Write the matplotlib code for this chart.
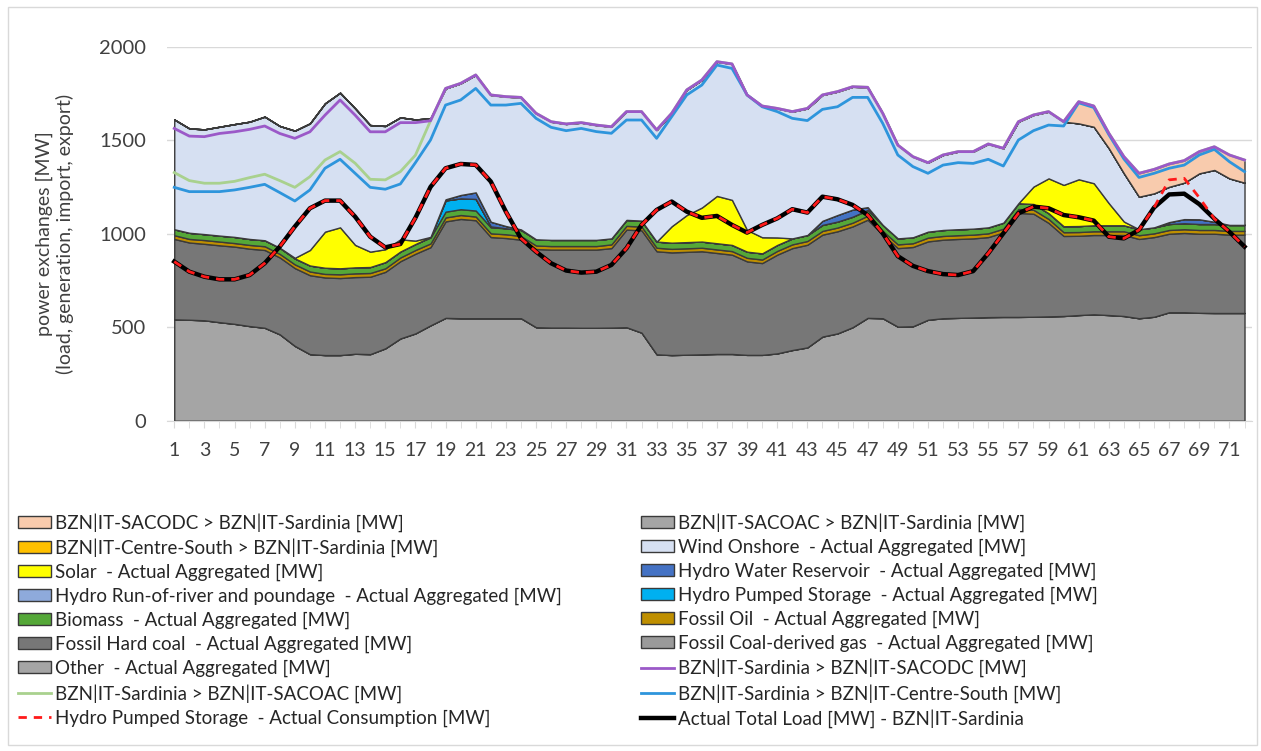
import numpy as np
import matplotlib
matplotlib.use('Agg')
import matplotlib.pyplot as plt
from matplotlib.patches import Patch, Rectangle
from matplotlib.lines import Line2D
import matplotlib.ticker as ticker

plt.rcParams['font.family'] = ['Lato', 'DejaVu Sans']

hours = np.arange(1, 73)

# stacked areas (MW), bottom to top
other = [542, 540, 537, 527, 518, 506, 497, 462, 400, 356, 351, 351, 358, 356, 387, 440, 467, 510,
         550, 548, 548, 548, 548, 548, 500, 498, 498, 497, 497, 498, 500, 471, 355, 351, 353, 355,
         357, 357, 352, 352, 360, 378, 392, 450, 467, 500, 550, 548, 503, 505, 540, 548, 550, 552,
         554, 555, 555, 556, 558, 560, 565, 569, 565, 560, 548, 556, 580, 580, 577, 576, 576, 576]
coal_gas = [0] * 72
hard_coal = [430, 413, 409, 411, 413, 414, 416, 411, 416, 422, 415, 412, 410, 414, 409, 413, 426, 418,
             516, 531, 524, 434, 429, 420, 418, 417, 417, 418, 418, 425, 522, 547, 551, 549, 550, 551,
             540, 531, 500, 491, 528, 545, 549, 545, 546, 539, 525, 447, 420, 424, 419, 420, 422, 423,
             428, 452, 556, 551, 500, 428, 424, 424, 428, 433, 424, 426, 420, 424, 423, 424, 419, 419]
fossil_oil = [20, 19, 20, 20, 19, 20, 20, 19, 20, 20, 19, 20, 20, 20, 19, 20, 20, 20,
              21, 21, 20, 20, 20, 20, 19, 19, 19, 19, 19, 20, 20, 20, 19, 19, 19, 19,
              19, 19, 19, 19, 20, 20, 20, 20, 20, 20, 21, 20, 20, 20, 20, 20, 20, 20,
              20, 20, 21, 21, 21, 20, 20, 20, 20, 20, 20, 20, 20, 20, 20, 20, 20, 20]
biomass = [32, 33, 32, 32, 33, 32, 32, 33, 32, 32, 33, 32, 32, 32, 33, 32, 32, 32,
           31, 31, 32, 32, 32, 32, 33, 33, 33, 33, 33, 32, 32, 32, 33, 33, 33, 33,
           33, 33, 33, 33, 32, 32, 32, 32, 32, 32, 31, 32, 32, 32, 32, 32, 32, 32,
           32, 32, 31, 31, 31, 32, 32, 32, 32, 32, 32, 32, 32, 32, 32, 32, 32, 32]
pumped_gen = [0] * 17 + [3, 60, 58, 62, 5] + [0] * 50
run_of_river = [0] * 72
water_res = ([0] * 18 + [6, 18, 35, 25, 12, 3] + [0] * 19 + [22, 35, 38, 15] + [0] * 19
             + [10, 22, 25, 12] + [0] * 2)
solar = ([0] * 8 + [3, 83, 193, 219, 120, 82, 69, 65, 18, 0] + [0] * 14
         + [0, 88, 145, 182, 253, 241, 116, 86, 40, 0] + [0] * 14
         + [0, 93, 186, 221, 250, 225, 118, 20, 0] + [0] * 7)
wind = [587, 558, 560, 582, 603, 627, 661, 651, 680, 677, 686, 720, 730, 677, 659, 652, 648, 634,
        593, 597, 628, 678, 692, 706, 674, 632, 620, 627, 614, 597, 579, 583, 597, 604, 669, 682,
        718, 727, 722, 702, 690, 678, 677, 673, 660, 657, 641, 597, 499, 431, 369, 401, 415, 412,
        446, 398, 436, 383, 357, 338, 299, 302, 294, 258, 174, 182, 189, 195, 246, 277, 249, 226]
imp_centre_south = [0] * 72
imp_sacoac = [0] * 72
imp_sacodc = [0] * 60 + [116, 111, 80, 89, 125, 128, 122, 118, 116, 124, 125, 121]

# lines (MW)
exp_sacodc = [1563, 1522, 1519, 1536, 1545, 1558, 1576, 1536, 1510, 1545, 1634, 1715, 1634, 1545, 1545, 1594, 1594, 1604,
              1777, 1804, 1849, 1742, 1733, 1729, 1644, 1599, 1587, 1594, 1581, 1572, 1653, 1653, 1555, 1644, 1769, 1822,
              1920, 1908, 1742, 1683, 1670, 1653, 1670, 1742, 1760, 1786, 1783, 1644, 1474, 1412, 1380, 1421, 1439, 1439,
              1480, 1457, 1599, 1635, 1653, 1599, 1706, 1683, 1537, 1412, 1323, 1344, 1373, 1391, 1439, 1465, 1421, 1394]
exp_sacoac = [1327, 1284, 1270, 1270, 1280, 1300, 1318, 1284, 1248, 1305, 1394, 1439, 1377, 1291, 1288, 1332, 1420, 1604,
              1777, 1804, 1849, 1742, 1733, 1729, 1644, 1599, 1587, 1594, 1581, 1572, 1653, 1653, 1555, 1644, 1769, 1822,
              1920, 1908, 1742, 1683, 1670, 1653, 1670, 1742, 1760, 1786, 1783, 1644, 1474, 1412, 1380, 1421, 1439, 1439,
              1480, 1457, 1599, 1635, 1653, 1599, 1706, 1683, 1537, 1412, 1323, 1344, 1373, 1391, 1439, 1465, 1421, 1394]
exp_centre_south = [1248, 1225, 1225, 1225, 1234, 1248, 1264, 1220, 1175, 1234, 1350, 1398, 1323, 1248, 1238, 1266, 1380, 1501,
                    1688, 1715, 1777, 1688, 1688, 1697, 1617, 1569, 1551, 1563, 1546, 1537, 1608, 1608, 1510, 1626, 1742, 1795,
                    1902, 1884, 1742, 1679, 1653, 1617, 1605, 1665, 1679, 1729, 1729, 1590, 1421, 1359, 1323, 1367, 1380, 1376,
                    1398, 1362, 1501, 1551, 1581, 1576, 1700, 1675, 1530, 1400, 1301, 1323, 1350, 1367, 1421, 1451, 1385, 1332]
total_load = [851, 797, 770, 756, 756, 779, 842, 931, 1038, 1136, 1177, 1177, 1091, 984, 927, 945, 1085, 1250,
              1350, 1373, 1368, 1279, 1118, 975, 904, 842, 803, 792, 797, 833, 922, 1047, 1127, 1172, 1118, 1085,
              1095, 1047, 1006, 1047, 1082, 1131, 1113, 1198, 1184, 1154, 1100, 1002, 880, 828, 800, 784, 779, 800,
              895, 1002, 1109, 1145, 1136, 1100, 1088, 1070, 984, 975, 1020, 1140, 1210, 1214, 1158, 1080, 1010, 931]
pumped_cons = [0] * 66 + [78, 82, 35] + [0] * 3

area_labels = ['Other  - Actual Aggregated [MW]',
               'Fossil Coal-derived gas  - Actual Aggregated [MW]',
               'Fossil Hard coal  - Actual Aggregated [MW]',
               'Fossil Oil  - Actual Aggregated [MW]',
               'Biomass  - Actual Aggregated [MW]',
               'Hydro Pumped Storage  - Actual Aggregated [MW]',
               'Hydro Run-of-river and poundage  - Actual Aggregated [MW]',
               'Hydro Water Reservoir  - Actual Aggregated [MW]',
               'Solar  - Actual Aggregated [MW]',
               'Wind Onshore  - Actual Aggregated [MW]',
               'BZN|IT-Centre-South > BZN|IT-Sardinia [MW]',
               'BZN|IT-SACOAC > BZN|IT-Sardinia [MW]',
               'BZN|IT-SACODC > BZN|IT-Sardinia [MW]']
area_colors = ['#a5a5a5', '#9a9a9a', '#777777', '#bf8f00', '#55a838', '#00b0f0', '#8eaadb',
               '#4472c4', '#ffff00', '#d6e0f2', '#ffc000', '#a5a5a5', '#f8cbad']

fig = plt.figure(figsize=(12.61, 7.51), dpi=100)
ax = fig.add_axes([0.1322, 0.4398, 0.8607, 0.498])

polys = ax.stackplot(hours, other, coal_gas, hard_coal, fossil_oil, biomass, pumped_gen,
                     run_of_river, water_res, solar, wind, imp_centre_south, imp_sacoac,
                     imp_sacodc, colors=area_colors, edgecolor='#3a3a3a', linewidth=1.0,
                     zorder=2)

ax.plot(hours, exp_sacoac, color='#a9d18e', lw=2, zorder=3)
ax.plot(hours, exp_centre_south, color='#2e95dc', lw=2, zorder=3)
ax.plot(hours, exp_sacodc, color='#9b59c8', lw=2, zorder=4)
ax.plot(hours, total_load, color='black', lw=3.2, zorder=5)
ax.plot(hours, np.array(total_load) + np.array(pumped_cons), color='#ff1a1a', lw=2,
        ls=(0, (3, 2.5)), zorder=6)

ax.set_xlim(0.5, 72.5)
ax.set_ylim(0, 2000)
ax.yaxis.set_major_locator(ticker.MultipleLocator(500))
ax.set_xticks(np.arange(1, 72, 2))
ax.set_xticks(hours, minor=True)
ax.grid(axis='y', color='#d9d9d9', lw=1, zorder=0)
ax.set_axisbelow(True)
for s in ['top', 'right', 'left']:
    ax.spines[s].set_visible(False)
ax.spines['bottom'].set_color('#d9d9d9')
ax.tick_params(axis='y', length=0, labelsize=14.5, pad=15, colors='#404040')
ax.tick_params(axis='x', which='major', length=5, color='#d9d9d9', labelsize=14, pad=10,
               labelcolor='#404040')
ax.tick_params(axis='x', which='minor', length=5, color='#d9d9d9')
ax.set_ylabel('power exchanges [MW]\n(load, generation, import, export)', fontsize=14,
              color='#404040', labelpad=18)

h = {lab: Patch(facecolor=c, edgecolor='#3a3a3a', lw=1) for lab, c in zip(area_labels, area_colors)}
col1 = [h['BZN|IT-SACODC > BZN|IT-Sardinia [MW]'],
        h['BZN|IT-Centre-South > BZN|IT-Sardinia [MW]'],
        h['Solar  - Actual Aggregated [MW]'],
        h['Hydro Run-of-river and poundage  - Actual Aggregated [MW]'],
        h['Biomass  - Actual Aggregated [MW]'],
        h['Fossil Hard coal  - Actual Aggregated [MW]'],
        h['Other  - Actual Aggregated [MW]'],
        Line2D([], [], color='#a9d18e', lw=2),
        Line2D([], [], color='#ff1a1a', lw=2, ls=(0, (3, 2.5)))]
lab1 = ['BZN|IT-SACODC > BZN|IT-Sardinia [MW]',
        'BZN|IT-Centre-South > BZN|IT-Sardinia [MW]',
        'Solar  - Actual Aggregated [MW]',
        'Hydro Run-of-river and poundage  - Actual Aggregated [MW]',
        'Biomass  - Actual Aggregated [MW]',
        'Fossil Hard coal  - Actual Aggregated [MW]',
        'Other  - Actual Aggregated [MW]',
        'BZN|IT-Sardinia > BZN|IT-SACOAC [MW]',
        'Hydro Pumped Storage  - Actual Consumption [MW]']
col2 = [h['BZN|IT-SACOAC > BZN|IT-Sardinia [MW]'],
        h['Wind Onshore  - Actual Aggregated [MW]'],
        h['Hydro Water Reservoir  - Actual Aggregated [MW]'],
        h['Hydro Pumped Storage  - Actual Aggregated [MW]'],
        h['Fossil Oil  - Actual Aggregated [MW]'],
        h['Fossil Coal-derived gas  - Actual Aggregated [MW]'],
        Line2D([], [], color='#9b59c8', lw=2),
        Line2D([], [], color='#2e95dc', lw=2),
        Line2D([], [], color='black', lw=3.2)]
lab2 = ['BZN|IT-SACOAC > BZN|IT-Sardinia [MW]',
        'Wind Onshore  - Actual Aggregated [MW]',
        'Hydro Water Reservoir  - Actual Aggregated [MW]',
        'Hydro Pumped Storage  - Actual Aggregated [MW]',
        'Fossil Oil  - Actual Aggregated [MW]',
        'Fossil Coal-derived gas  - Actual Aggregated [MW]',
        'BZN|IT-Sardinia > BZN|IT-SACODC [MW]',
        'BZN|IT-Sardinia > BZN|IT-Centre-South [MW]',
        'Actual Total Load [MW] - BZN|IT-Sardinia']

leg_kw = dict(loc='upper left', frameon=False, fontsize=13.5, handlelength=1.75,
              handleheight=0.6, handletextpad=0.2, labelspacing=0.355, borderpad=0,
              borderaxespad=0, labelcolor='#262626')
fig.legend(col1, lab1, bbox_to_anchor=(18 / 1261, 1 - 513 / 751), **leg_kw)
fig.legend(col2, lab2, bbox_to_anchor=(641 / 1261, 1 - 513 / 751), **leg_kw)

fig.patches.append(Rectangle((8 / 1261, 6 / 751), 1249 / 1261, 738 / 751, fill=False,
                             edgecolor='#d9d9d9', lw=1, transform=fig.transFigure))

fig.savefig('out.png', dpi=100)
